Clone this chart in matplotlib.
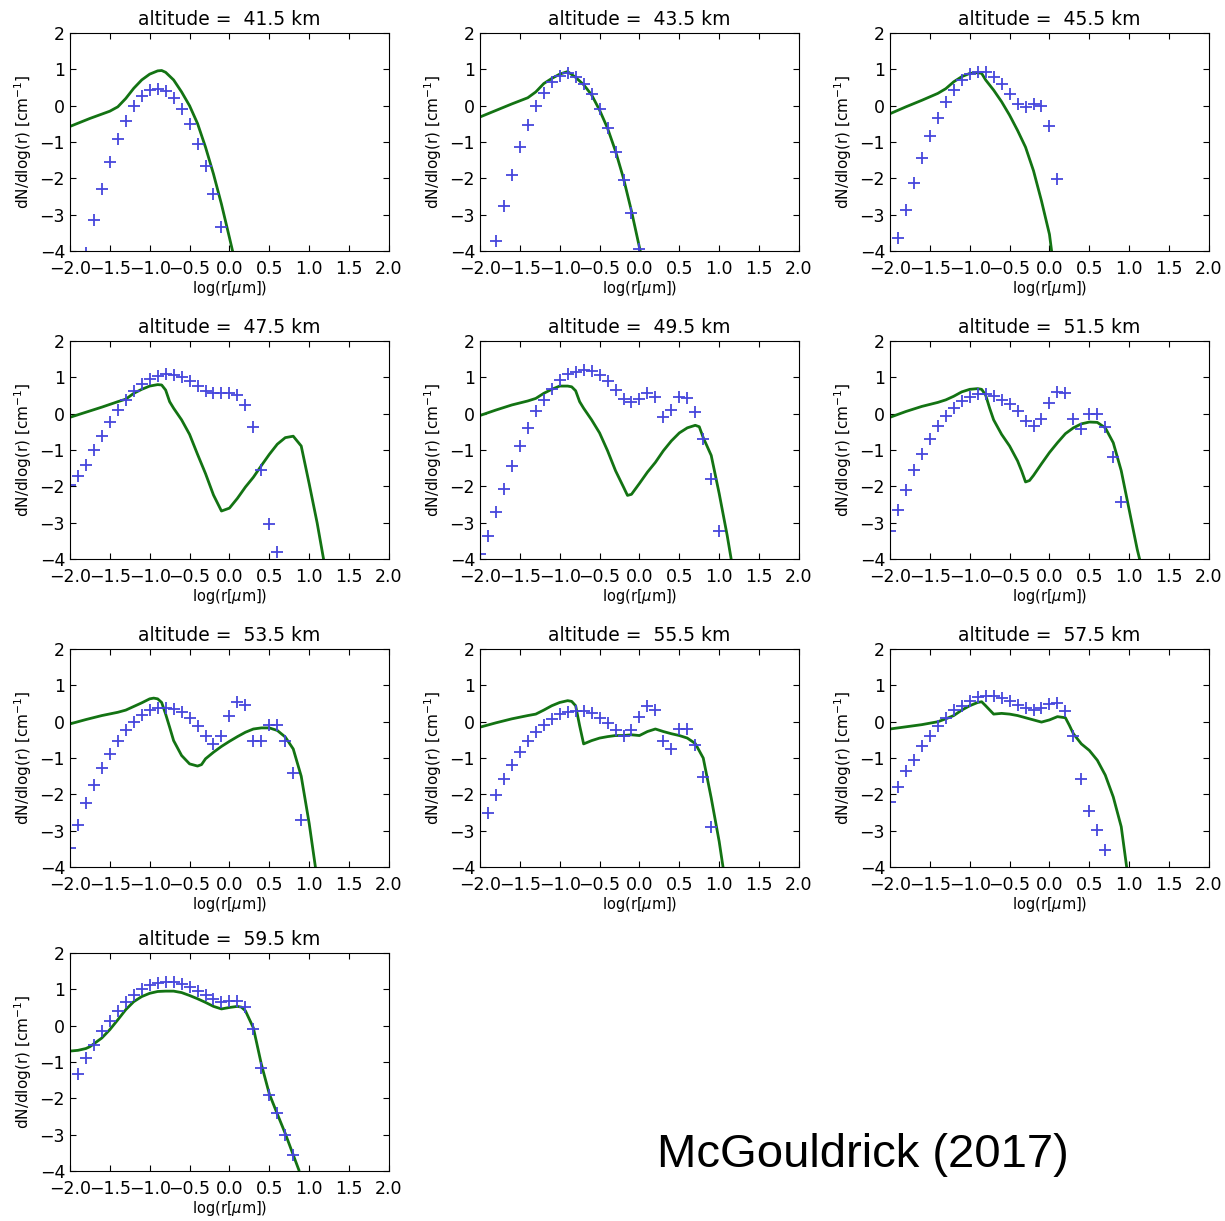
import numpy as np
import matplotlib
matplotlib.use("Agg")
import matplotlib.pyplot as plt

# altitudes of the panels (km)
altitudes = [41.5, 43.5, 45.5, 47.5, 49.5, 51.5, 53.5, 55.5, 57.5, 59.5]

# observed size distributions: first bin centre and values on a 0.1 grid in log(r)
obs_start = [-1.8, -1.8, -1.9, -2.0, -2.0, -2.0, -2.0, -1.9, -2.0, -1.9]
obs_415 = [-4.05, -3.14, -2.29, -1.55, -0.91, -0.42, -0.01, 0.26, 0.43, 0.46, 0.40, 0.22,
           -0.09, -0.51, -1.05, -1.67, -2.43, -3.34]
obs_435 = [-3.72, -2.75, -1.90, -1.14, -0.54, -0.01, 0.36, 0.66, 0.82, 0.89, 0.78, 0.60,
           0.31, -0.10, -0.61, -1.28, -2.04, -2.94, -3.95]
obs_455 = [-3.63, -2.87, -2.12, -1.43, -0.84, -0.33, 0.09, 0.43, 0.71, 0.87, 0.94, 0.92,
           0.78, 0.60, 0.32, 0.04, -0.03, 0.04, -0.01, -0.57, -2.03]
obs_475 = [-1.97, -1.72, -1.40, -1.00, -0.62, -0.24, 0.10, 0.38, 0.62, 0.83, 0.96, 1.05,
           1.09, 1.07, 1.01, 0.89, 0.76, 0.63, 0.57, 0.57, 0.58, 0.51, 0.24, -0.36, -1.55,
           -3.05, -3.80]
obs_495 = [-3.86, -3.37, -2.71, -2.06, -1.43, -0.89, -0.39, 0.06, 0.39, 0.69, 0.92, 1.08,
           1.16, 1.21, 1.17, 1.07, 0.89, 0.65, 0.40, 0.31, 0.40, 0.57, 0.47, -0.10, 0.11,
           0.45, 0.44, 0.04, -0.71, -1.79, -3.23]
obs_515 = [-3.23, -2.65, -2.09, -1.56, -1.12, -0.71, -0.35, -0.07, 0.15, 0.35, 0.47, 0.53,
           0.53, 0.49, 0.39, 0.26, 0.06, -0.19, -0.35, -0.14, 0.30, 0.60, 0.56, -0.14, -0.42,
           -0.01, -0.01, -0.36, -1.18, -2.42]
obs_535 = [-3.48, -2.84, -2.25, -1.75, -1.27, -0.88, -0.52, -0.22, 0.00, 0.19, 0.31, 0.37,
           0.37, 0.35, 0.28, 0.10, -0.13, -0.38, -0.61, -0.38, 0.17, 0.55, 0.46, -0.54, -0.54,
           -0.09, -0.09, -0.54, -1.41, -2.71]
obs_555 = [-2.50, -2.02, -1.57, -1.18, -0.84, -0.53, -0.29, -0.09, 0.08, 0.21, 0.28, 0.29,
           0.29, 0.23, 0.10, -0.04, -0.22, -0.38, -0.24, 0.12, 0.42, 0.32, -0.52, -0.75,
           -0.21, -0.20, -0.63, -1.52, -2.91]
obs_575 = [-2.20, -1.79, -1.37, -1.04, -0.68, -0.38, -0.11, 0.11, 0.31, 0.44, 0.58, 0.67,
           0.72, 0.70, 0.64, 0.56, 0.47, 0.38, 0.33, 0.38, 0.49, 0.51, 0.29, -0.38, -1.59,
           -2.46, -2.98, -3.53]
obs_595 = [-1.32, -0.88, -0.52, -0.14, 0.14, 0.41, 0.64, 0.83, 1.00, 1.12, 1.18, 1.21,
           1.19, 1.15, 1.07, 0.96, 0.85, 0.74, 0.66, 0.69, 0.69, 0.50, -0.08, -1.17, -1.91,
           -2.41, -3.00, -3.56]
obs_all = [obs_415, obs_435, obs_455, obs_475, obs_495, obs_515, obs_535, obs_555, obs_575, obs_595]

# model curves
mod_x_415 = [-2.0, -1.75, -1.5, -1.4, -1.3, -1.2, -1.1, -1.0, -0.9, -0.85, -0.8, -0.7, -0.6,
             -0.5, -0.4, -0.3, -0.2, -0.1, 0.0, 0.05]
mod_y_415 = [-0.57, -0.35, -0.15, -0.03, 0.20, 0.48, 0.71, 0.87, 0.96, 0.97, 0.92, 0.71, 0.38,
             0.0, -0.49, -1.14, -1.88, -2.71, -3.63, -4.1]
mod_x_435 = [-2.0, -1.8, -1.6, -1.4, -1.3, -1.2, -1.1, -1.0, -0.9, -0.8, -0.7, -0.6, -0.5,
             -0.4, -0.3, -0.2, -0.1, 0.0, 0.02]
mod_y_435 = [-0.31, -0.13, 0.05, 0.22, 0.38, 0.61, 0.75, 0.87, 0.94, 0.78, 0.58, 0.30, -0.12,
             -0.62, -1.25, -2.0, -2.9, -3.9, -4.1]
mod_x_455 = [-2.0, -1.8, -1.6, -1.4, -1.3, -1.2, -1.1, -1.0, -0.9, -0.85, -0.8, -0.7, -0.6,
             -0.5, -0.4, -0.3, -0.2, -0.1, 0.0, 0.03]
mod_y_455 = [-0.22, -0.03, 0.15, 0.34, 0.47, 0.66, 0.80, 0.89, 0.91, 0.89, 0.71, 0.43, 0.11,
             -0.26, -0.68, -1.14, -1.79, -2.62, -3.54, -4.05]
mod_x_475 = [-2.0, -1.8, -1.6, -1.4, -1.3, -1.2, -1.1, -1.0, -0.9, -0.85, -0.8, -0.75, -0.7,
             -0.6, -0.5, -0.4, -0.3, -0.2, -0.1, 0.0, 0.1, 0.2, 0.3, 0.4, 0.5, 0.6, 0.7, 0.8,
             0.9, 1.0, 1.1, 1.18]
mod_y_475 = [-0.10, 0.04, 0.18, 0.33, 0.40, 0.56, 0.67, 0.76, 0.80, 0.79, 0.65, 0.33, 0.15,
             -0.17, -0.57, -1.12, -1.65, -2.24, -2.68, -2.60, -2.33, -2.02, -1.75, -1.43,
             -1.12, -0.84, -0.66, -0.62, -0.89, -1.93, -3.01, -4.0]
mod_x_495 = [-2.0, -1.8, -1.6, -1.4, -1.3, -1.2, -1.1, -1.0, -0.9, -0.85, -0.8, -0.75, -0.7,
             -0.6, -0.5, -0.4, -0.3, -0.2, -0.15, -0.1, 0.0, 0.1, 0.2, 0.3, 0.4, 0.5, 0.6,
             0.7, 0.75, 0.8, 0.9, 1.0, 1.1, 1.15]
mod_y_495 = [-0.05, 0.10, 0.24, 0.35, 0.42, 0.56, 0.67, 0.76, 0.76, 0.74, 0.63, 0.33, 0.15,
             -0.17, -0.53, -1.02, -1.57, -2.02, -2.25, -2.22, -1.92, -1.61, -1.34, -1.02,
             -0.75, -0.53, -0.39, -0.32, -0.36, -0.66, -1.15, -2.2, -3.35, -4.0]
mod_x_515 = [-2.0, -1.8, -1.6, -1.4, -1.3, -1.2, -1.1, -1.0, -0.9, -0.85, -0.8, -0.75, -0.7,
             -0.6, -0.5, -0.4, -0.35, -0.3, -0.25, -0.2, -0.1, 0.0, 0.1, 0.2, 0.3, 0.4, 0.5,
             0.6, 0.7, 0.8, 0.9, 1.0, 1.1, 1.13]
mod_y_515 = [-0.10, 0.06, 0.20, 0.31, 0.38, 0.48, 0.60, 0.67, 0.69, 0.67, 0.51, 0.15, -0.17,
             -0.57, -0.89, -1.30, -1.57, -1.88, -1.84, -1.70, -1.38, -1.07, -0.80, -0.55,
             -0.39, -0.28, -0.23, -0.24, -0.39, -0.80, -1.57, -2.65, -3.73, -4.0]
mod_x_535 = [-2.0, -1.8, -1.6, -1.4, -1.3, -1.2, -1.1, -1.0, -0.95, -0.9, -0.85, -0.8, -0.75,
             -0.7, -0.6, -0.5, -0.4, -0.35, -0.3, -0.2, -0.1, 0.0, 0.1, 0.2, 0.3, 0.4, 0.5,
             0.6, 0.7, 0.8, 0.9, 1.0, 1.08]
mod_y_535 = [-0.06, 0.06, 0.17, 0.26, 0.32, 0.42, 0.52, 0.63, 0.65, 0.63, 0.53, 0.21, -0.15,
             -0.52, -0.93, -1.16, -1.22, -1.18, -1.02, -0.84, -0.68, -0.54, -0.41, -0.29,
             -0.20, -0.17, -0.17, -0.24, -0.42, -0.75, -1.5, -2.8, -4.03]
mod_x_555 = [-2.0, -1.8, -1.6, -1.4, -1.3, -1.2, -1.1, -1.0, -0.9, -0.85, -0.8, -0.75, -0.7,
             -0.6, -0.5, -0.4, -0.3, -0.2, -0.1, 0.0, 0.1, 0.2, 0.3, 0.4, 0.5, 0.6, 0.7, 0.8,
             0.9, 1.0, 1.05]
mod_y_555 = [-0.15, -0.03, 0.08, 0.17, 0.21, 0.32, 0.44, 0.53, 0.58, 0.56, 0.44, -0.11, -0.61,
             -0.52, -0.45, -0.41, -0.38, -0.38, -0.36, -0.38, -0.27, -0.20, -0.27, -0.33,
             -0.38, -0.45, -0.60, -1.0, -2.1, -3.30, -4.03]
mod_x_575 = [-2.0, -1.8, -1.6, -1.4, -1.3, -1.2, -1.1, -1.0, -0.9, -0.85, -0.8, -0.7, -0.6,
             -0.5, -0.4, -0.3, -0.2, -0.1, 0.0, 0.1, 0.2, 0.25, 0.3, 0.4, 0.5, 0.6, 0.7, 0.8,
             0.9, 0.97]
mod_y_575 = [-0.20, -0.14, -0.08, 0.0, 0.08, 0.17, 0.32, 0.44, 0.53, 0.55, 0.44, 0.21, 0.23,
             0.21, 0.17, 0.11, 0.05, -0.01, 0.05, 0.14, 0.11, -0.10, -0.33, -0.61, -0.79,
             -1.06, -1.47, -2.07, -2.89, -4.03]
mod_x_595 = [-2.0, -1.9, -1.8, -1.75, -1.7, -1.6, -1.5, -1.4, -1.3, -1.2, -1.1, -1.0, -0.9,
             -0.8, -0.7, -0.6, -0.5, -0.4, -0.3, -0.2, -0.1, 0.0, 0.1, 0.15, 0.2, 0.3, 0.4,
             0.5, 0.6, 0.7, 0.8, 0.87]
mod_y_595 = [-0.70, -0.68, -0.63, -0.58, -0.50, -0.34, -0.11, 0.16, 0.44, 0.66, 0.80, 0.89,
             0.94, 0.95, 0.95, 0.91, 0.83, 0.74, 0.64, 0.53, 0.46, 0.50, 0.53, 0.51, 0.41,
             -0.06, -1.06, -1.88, -2.43, -2.97, -3.56, -3.97]
mod_x_all = [mod_x_415, mod_x_435, mod_x_455, mod_x_475, mod_x_495, mod_x_515, mod_x_535,
             mod_x_555, mod_x_575, mod_x_595]
mod_y_all = [mod_y_415, mod_y_435, mod_y_455, mod_y_475, mod_y_495, mod_y_515, mod_y_535,
             mod_y_555, mod_y_575, mod_y_595]

x_ticks = [-2.0, -1.5, -1.0, -0.5, 0.0, 0.5, 1.0, 1.5, 2.0]
y_ticks = [-4, -3, -2, -1, 0, 1, 2]

plt.rcParams['font.family'] = ['DejaVu Sans']
plt.rcParams['xtick.direction'] = 'in'
plt.rcParams['ytick.direction'] = 'in'
plt.rcParams['xtick.top'] = True
plt.rcParams['ytick.right'] = True
plt.rcParams['xtick.major.size'] = 4
plt.rcParams['ytick.major.size'] = 4

fig = plt.figure(figsize=(12.25, 12.21), dpi=100)

lefts = [0.0571, 0.3918, 0.7265]
bottoms = [0.7944, 0.5422, 0.2899, 0.0410]
w, h = 0.2604, 0.1785

for i, alt in enumerate(altitudes):
    row, col = divmod(i, 3)
    ax = fig.add_axes([lefts[col], bottoms[row], w, h])
    obs = obs_all[i]
    xs = np.round(obs_start[i] + 0.1 * np.arange(len(obs)), 2)
    ax.plot(mod_x_all[i], mod_y_all[i], color='#137313', lw=2)
    ax.plot(xs, obs, '+', color='#4646dc', ms=8, mew=1.3)
    ax.set_xlim(-2, 2)
    ax.set_ylim(-4, 2)
    ax.set_xticks(x_ticks)
    ax.set_yticks(y_ticks)
    ax.tick_params(labelsize=12.5)
    ax.tick_params(axis='x', pad=6.5)
    ax.set_title('altitude =  %.1f km' % alt, fontsize=13.5)
    ax.set_xlabel(r'log(r[$\mu$m])', fontsize=10.5, labelpad=1)
    ax.set_ylabel(r'dN/dlog(r) [cm$^{-1}$]', fontsize=11)

fig.text(0.704, 0.054, 'McGouldrick (2017)', fontsize=34, family='Liberation Sans',
         ha='center', va='center')

fig.savefig('out.png', dpi=100)
